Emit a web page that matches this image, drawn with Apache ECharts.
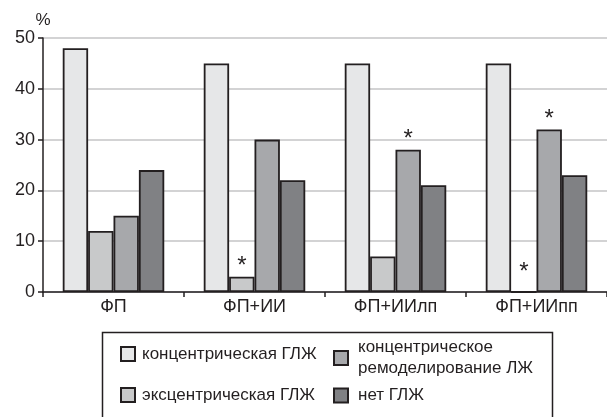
<!DOCTYPE html>
<html>
<head>
<meta charset="utf-8">
<script src="https://cdn.jsdelivr.net/npm/echarts@6/dist/echarts.min.js"></script>
<style>
  html, body { margin: 0; padding: 0; background: #fff; }
  #main { width: 607px; height: 417px; }
</style>
</head>
<body>
<div id="main"></div>
<script>
// данные
var categories = ['ФП', 'ФП+ИИ', 'ФП+ИИлп', 'ФП+ИИпп'];
var seriesNames = ['концентрическая ГЛЖ', 'эксцентрическая ГЛЖ', 'концентрическое\nремоделирование ЛЖ', 'нет ГЛЖ'];
var concGLZh = [48, 45, 45, 45];
var eccGLZh = [12, 3, 7, 0];
var concRemod = [15, 30, 28, 32];
var noGLZh = [24, 22, 21, 23];
// * - достоверные различия (1 = есть звёздочка)
var eccStars = [0, 1, 0, 1];
var remodStars = [0, 0, 1, 1];
var yTicks = [0, 10, 20, 30, 40, 50];

var FONT = '"Liberation Sans Narrow", "Arial Narrow", "Liberation Sans", sans-serif';
var INK = '#231f20';
var colors = ['#e6e7e8', '#c8c9ca', '#a7a8ab', '#808184'];

function withStars(values, stars){
    return values.map(function(v, i){
        if (!stars[i]) return v;
        return {
            value: v,
            label: {
                show: true,
                position: 'top',
                distance: v === 0 ? 7 : -2,
                formatter: '*',
                fontSize: 24,
                fontFamily: FONT,
                color: INK
            }
        };
    });
}

var dom = document.getElementById('main');
var myChart = echarts.init(dom, null, { renderer: 'canvas' });

function barSeries(name, data, color){
    return {
        name: name,
        type: 'bar',
        data: data,
        barGap: '0%',
        barCategoryGap: '28%',
        itemStyle: {
            color: color,
            borderColor: INK,
            borderWidth: 1.8
        },
        emphasis: { disabled: true },
        animation: false
    };
}

myChart.setOption({
    animation: false,
    textStyle: { fontFamily: FONT, color: INK },
    grid: {
        left: 43,
        right: 0,
        top: 38,
        bottom: 125,
        containLabel: false
    },
    legend: [
        {
            data: [seriesNames[0], seriesNames[1]],
            orient: 'vertical',
            left: 120,
            top: 345,
            padding: 0,
            itemWidth: 14,
            itemHeight: 14,
            itemGap: 23,
            icon: 'rect',
            selectedMode: false,
            textStyle: { fontSize: 17, fontFamily: FONT, color: INK, lineHeight: 18, padding: [0, 0, 0, 2] }
        },
        {
            data: [seriesNames[2], seriesNames[3]],
            orient: 'vertical',
            left: 333,
            top: 337,
            padding: 0,
            itemWidth: 14,
            itemHeight: 14,
            itemGap: 6,
            icon: 'rect',
            selectedMode: false,
            textStyle: { fontSize: 17, fontFamily: FONT, color: INK, lineHeight: 21, padding: [0, 0, 0, 5] }
        }
    ],
    graphic: [
        {   // рамка легенды
            type: 'rect',
            left: 100,
            top: 330,
            shape: { width: 450, height: 100 },
            style: { fill: 'none', stroke: INK, lineWidth: 1.5 },
            silent: true
        }
    ],
    xAxis: {
        type: 'category',
        data: categories,
        axisLine: { lineStyle: { color: INK, width: 1.5 } },
        axisTick: { show: true, alignWithLabel: false, length: 5, lineStyle: { color: INK, width: 1.5 } },
        axisLabel: { fontSize: 18, fontFamily: FONT, color: INK, margin: 6 }
    },
    yAxis: {
        type: 'value',
        min: yTicks[0],
        max: yTicks[yTicks.length - 1],
        interval: 10,
        name: '%',
        nameLocation: 'end',
        nameGap: 6,
        nameTextStyle: { fontSize: 17, fontFamily: FONT, color: INK, align: 'center' },
        axisLine: { show: true, lineStyle: { color: INK, width: 1.5 } },
        axisTick: { show: true, length: 5, lineStyle: { color: INK, width: 1.5 } },
        axisLabel: { fontSize: 18, fontFamily: FONT, color: INK, margin: 8 },
        splitLine: { show: true, lineStyle: { color: '#c4c4c6', width: 1.5 } }
    },
    series: [
        barSeries(seriesNames[0], concGLZh, colors[0]),
        barSeries(seriesNames[1], withStars(eccGLZh, eccStars), colors[1]),
        barSeries(seriesNames[2], withStars(concRemod, remodStars), colors[2]),
        barSeries(seriesNames[3], noGLZh, colors[3])
    ]
});
window.addEventListener('resize', function(){
    myChart.resize();
});
</script>
</body>
</html>
